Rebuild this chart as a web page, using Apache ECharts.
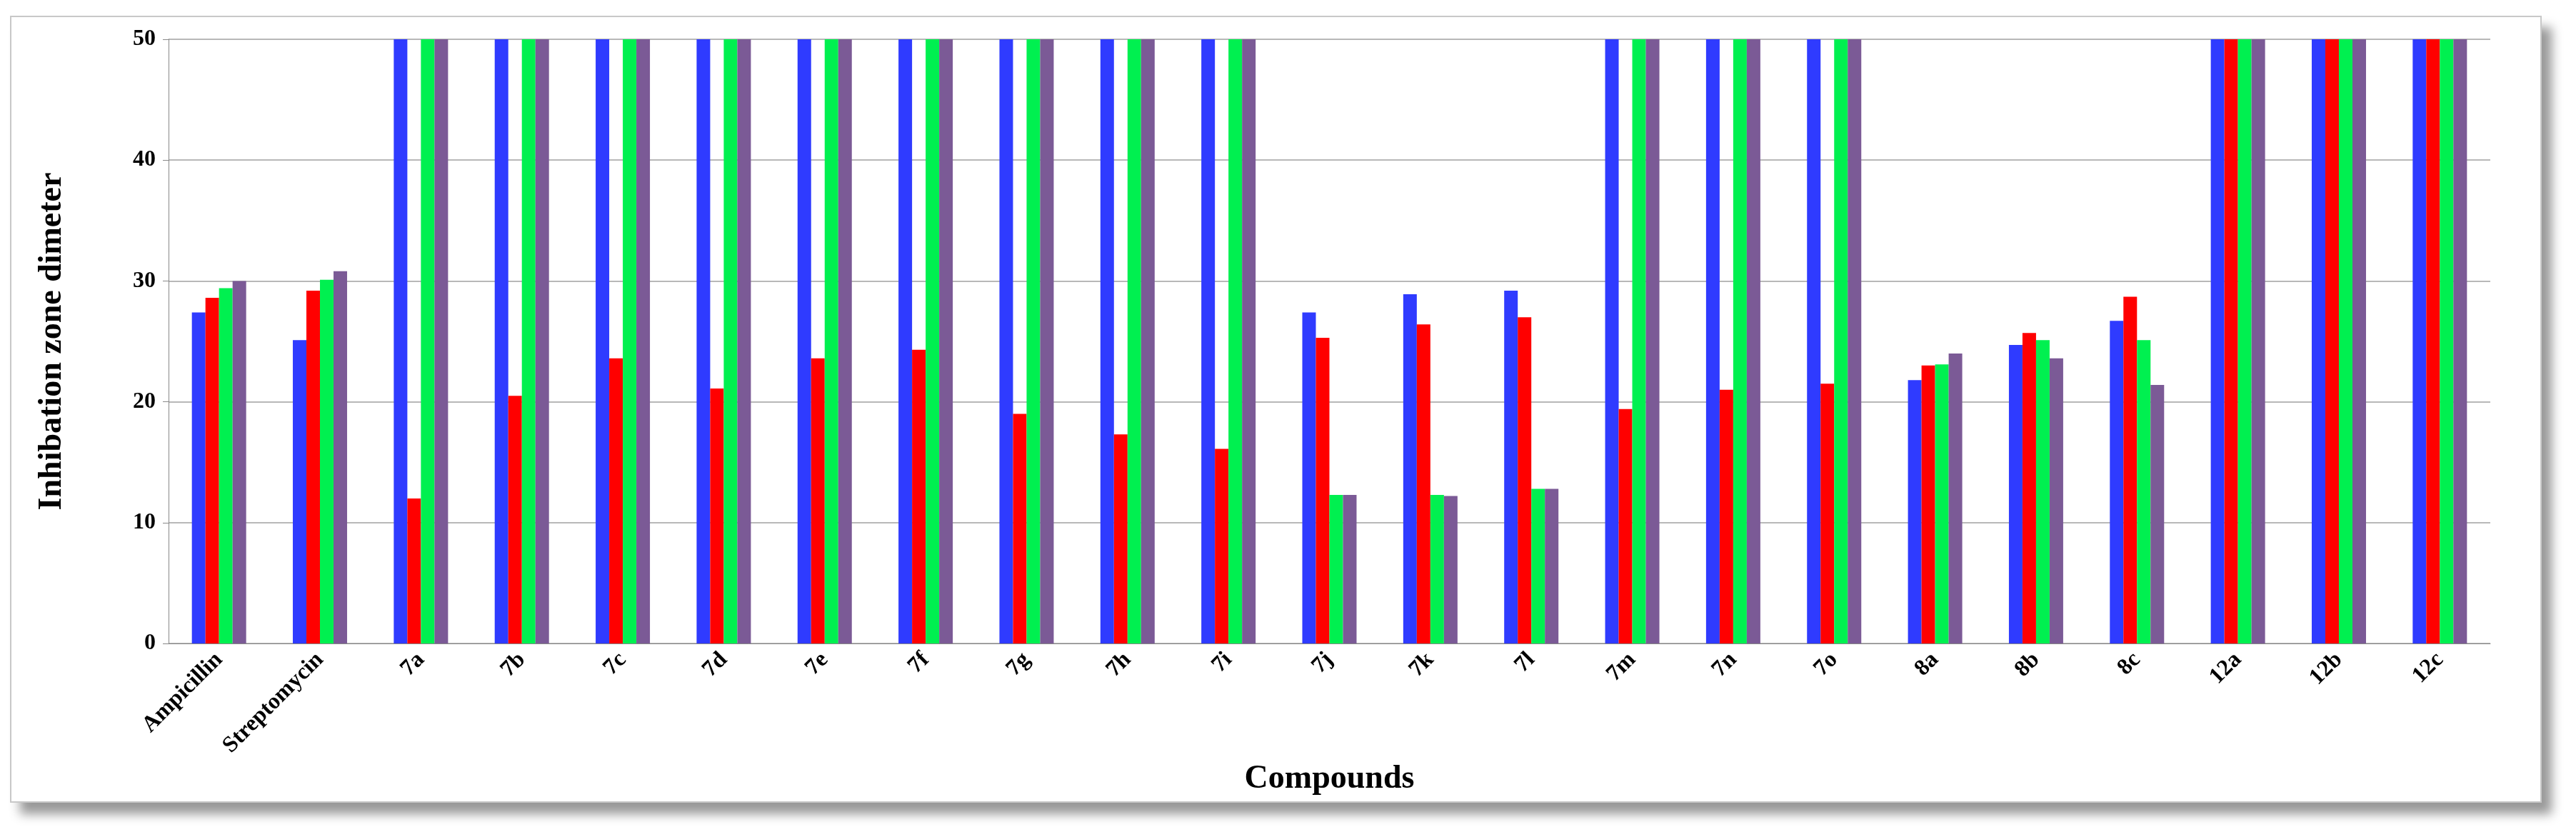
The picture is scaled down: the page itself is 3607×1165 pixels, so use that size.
<!DOCTYPE html>
<html>
<head>
<meta charset="utf-8">
<script src="https://cdn.jsdelivr.net/npm/echarts@6/dist/echarts.min.js"></script>
<style>
  html, body { margin: 0; padding: 0; background: #fff; }
  #frame { position: absolute; left: 14px; top: 22px; width: 3541px; height: 1098px;
           border: 2px solid #c8c8c8; box-shadow: 14px 16px 14px #999; background: #fff; }
  #chart { position: absolute; left: 0; top: 0; width: 3607px; height: 1165px; }
</style>
</head>
<body>
<div id="frame"></div>
<div id="chart"></div>
<script>
var categories = ['Ampicillin', 'Streptomycin', '7a', '7b', '7c', '7d', '7e', '7f', '7g', '7h', '7i',
                  '7j', '7k', '7l', '7m', '7n', '7o', '8a', '8b', '8c', '12a', '12b', '12c'];
var blueVals   = [27.4, 25.1, 50, 50, 50, 50, 50, 50, 50, 50, 50, 27.4, 28.9, 29.2, 50, 50, 50, 21.8, 24.7, 26.7, 50, 50, 50];
var redVals    = [28.6, 29.2, 12, 20.5, 23.6, 21.1, 23.6, 24.3, 19, 17.3, 16.1, 25.3, 26.4, 27, 19.4, 21, 21.5, 23, 25.7, 28.7, 50, 50, 50];
var greenVals  = [29.4, 30.1, 50, 50, 50, 50, 50, 50, 50, 50, 50, 12.3, 12.3, 12.8, 50, 50, 50, 23.1, 25.1, 25.1, 50, 50, 50];
var purpleVals = [30, 30.8, 50, 50, 50, 50, 50, 50, 50, 50, 50, 12.3, 12.2, 12.8, 50, 50, 50, 24, 23.6, 21.4, 50, 50, 50];

var font = '"Liberation Serif", "Times New Roman", serif';
function bar(name, data, color) {
    return { name: name, type: 'bar', data: data, barWidth: 19, barGap: '0%',
             itemStyle: { color: color } };
}
var chart = echarts.init(document.getElementById('chart'));
chart.setOption({
    animation: false,
    grid: { left: 236, right: 120, top: 55, bottom: 264 },
    xAxis: {
        type: 'category', data: categories,
        name: 'Compounds', nameLocation: 'middle', nameGap: 150,
        nameTextStyle: { fontFamily: font, fontWeight: 'bold', fontSize: 46, color: '#000' },
        axisLine: { lineStyle: { color: '#888' } },
        axisTick: { lineStyle: { color: '#888' }, length: 8 },
        axisLabel: { rotate: 45, fontFamily: font, fontWeight: 'bold', fontSize: 32, color: '#000', margin: 18 }
    },
    yAxis: {
        type: 'value', min: 0, max: 50, interval: 10,
        name: 'Inhibation zone dimeter', nameLocation: 'middle', nameGap: 140,
        nameTextStyle: { fontFamily: font, fontWeight: 'bold', fontSize: 46, color: '#000' },
        axisLine: { show: true, lineStyle: { color: '#888' } },
        axisTick: { show: true, lineStyle: { color: '#888' }, length: 8 },
        axisLabel: { fontFamily: font, fontWeight: 'bold', fontSize: 32, color: '#000', margin: 18 },
        splitLine: { lineStyle: { color: '#b8b8b8', width: 2 } }
    },
    series: [
        bar('S1', blueVals, '#2f3bff'),
        bar('S2', redVals, '#ff0000'),
        bar('S3', greenVals, '#00f050'),
        bar('S4', purpleVals, '#7b5a96')
    ]
});
</script>
</body>
</html>
